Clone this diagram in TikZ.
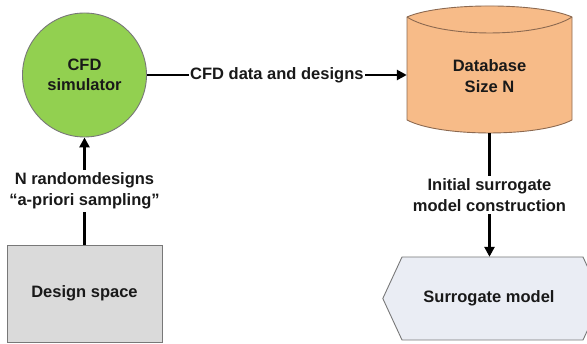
\documentclass[tikz,border=0pt]{standalone}
\usepackage{fontspec}
\setmainfont{Liberation Sans}
\usetikzlibrary{arrows.meta}
\definecolor{simgreen}{RGB}{146,208,80}
\definecolor{dborange}{RGB}{247,187,136}
\definecolor{dbborder}{RGB}{140,105,80}
\definecolor{dsgray}{RGB}{218,218,218}
\definecolor{smfill}{RGB}{234,237,244}
\definecolor{bordergray}{RGB}{120,120,120}
\begin{document}
\begin{tikzpicture}[x=1pt,y=-1pt,
  txt/.style={font=\fontsize{16.5}{20.5}\selectfont\bfseries, align=center, text=black!90},
  conn/.style={line width=2.6pt, -{Triangle[length=10pt,width=10pt]}},
  lbl/.style={txt, fill=white, inner sep=3pt},
  shapeborder/.style={line width=0.9pt}]
\useasboundingbox (0,0) rectangle (587,344);
% CFD simulator
\node[circle, draw=bordergray, shapeborder, fill=simgreen, minimum size=124, txt] (sim) at (84.5,75) {CFD\\simulator};
% Design space
\node[rectangle, draw=bordergray, shapeborder, fill=dsgray, minimum width=155, minimum height=97, txt] (ds) at (84.5,293.5) {Design space};
% Database cylinder
\fill[dborange] (407,17) .. controls (440,2.3) and (539,2.3) .. (572,17) -- (572,120)
  .. controls (539,137.3) and (440,137.3) .. (407,120) -- cycle;
\draw[dbborder, shapeborder] (407,17) .. controls (440,2.3) and (539,2.3) .. (572,17) -- (572,120)
  .. controls (539,137.3) and (440,137.3) .. (407,120) -- cycle;
\draw[dbborder, shapeborder] (407,17) .. controls (440,38.3) and (539,38.3) .. (572,17);
\node[minimum width=165, minimum height=116, inner sep=0pt, txt] (db) at (489.5,75) {};
\node[txt] (dbtext) at (489.5,76) {Database\\Size N};
% Surrogate model hexagon
\node[minimum width=219, minimum height=83, inner sep=0pt] (sm) at (492.5,298.5) {};
\filldraw[fill=smfill, draw=bordergray, shapeborder] (sm.west) -- (402,257) -- (583,257) -- (sm.east) -- (583,340) -- (402,340) -- cycle;
\node[txt] (smtext) at (489,298) {Surrogate model};
% connectors
\draw[conn] (ds.north) -- node[lbl, midway] {N randomdesigns\\“a-priori sampling”} (sim.south);
\draw[conn] (sim.east) -- node[lbl, midway, inner sep=1.5pt] {CFD data and designs} (db.west);
\draw[conn] (db.south) -- node[lbl, midway] {Initial surrogate\\model construction} (db.south |- sm.north);
\end{tikzpicture}
\end{document}
